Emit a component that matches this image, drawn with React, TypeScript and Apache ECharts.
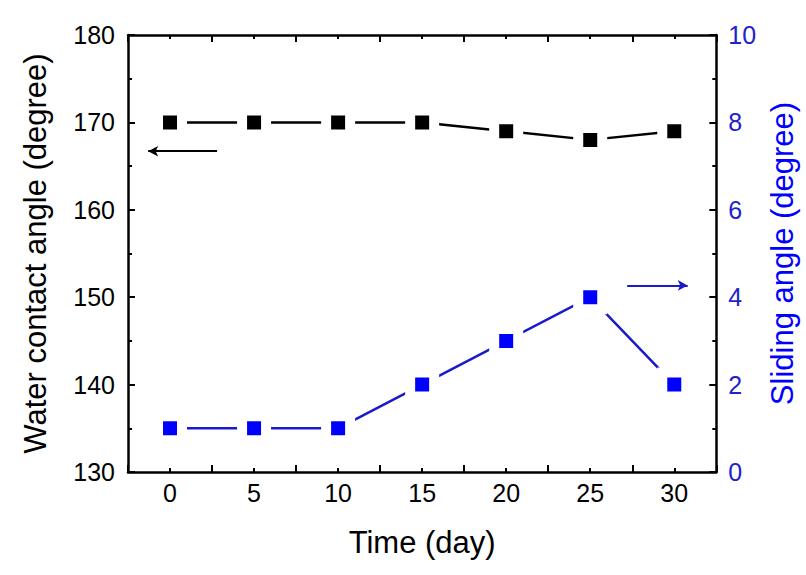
import React, { useEffect, useRef } from "react";
import * as echarts from "echarts";

const days = [0, 5, 10, 15, 20, 25, 30];
const contactAngle = [170, 170, 170, 170, 169, 168, 169];
const slidingAngle = [1, 1, 1, 2, 3, 4, 2];
const leftArrow = [[2.8, 166.7], [-1.3, 166.7]];
const rightArrow = [[27.2, 4.27], [30.8, 4.27]];

const FONT = "Liberation Sans, Arial, sans-serif";
const BLUE = "#0000ff";
const BLUE_TEXT = "#2222cc";

const axisLine = () => ({ show: true, onZero: false, lineStyle: { color: "#000", width: 2.5 } });
const tick = () => ({ show: true, inside: true, length: 7, lineStyle: { color: "#000", width: 2 } });
const minor = () => ({ show: true, splitNumber: 2, length: 4, lineStyle: { color: "#000", width: 2 } });

export default function App() {
  const ref = useRef<HTMLDivElement>(null);
  useEffect(() => {
    const chart = echarts.init(ref.current!, undefined, { renderer: "svg" });
    chart.setOption({
      animation: false,
      backgroundColor: "#fff",
      grid: { left: 128, right: 86, top: 35, bottom: 103 },
      xAxis: [
        {
          type: "value", min: -2.5, max: 32.5, interval: 5,
          axisLine: axisLine(), axisTick: tick(), minorTick: minor(),
          splitLine: { show: false },
          axisLabel: { customValues: days, fontFamily: FONT, fontSize: 25, color: "#000", margin: 8 },
          name: "Time (day)", nameLocation: "middle", nameGap: 55,
          nameTextStyle: { fontFamily: FONT, fontSize: 31, color: "#000" },
        },
        {
          type: "value", min: -2.5, max: 32.5, interval: 5, position: "top",
          axisLine: axisLine(), axisTick: tick(), minorTick: minor(),
          splitLine: { show: false }, axisLabel: { show: false },
        },
      ],
      yAxis: [
        {
          type: "value", min: 130, max: 180, interval: 10, position: "left",
          axisLine: axisLine(), axisTick: tick(), minorTick: minor(), splitLine: { show: false },
          axisLabel: { fontFamily: FONT, fontSize: 25, color: "#000", margin: 13 },
          name: "Water contact angle (degree)", nameLocation: "middle", nameGap: 77,
          nameTextStyle: { fontFamily: FONT, fontSize: 31, color: "#000" },
        },
        {
          type: "value", min: 0, max: 10, interval: 2, position: "right",
          axisLine: axisLine(), axisTick: tick(), minorTick: minor(), splitLine: { show: false },
          axisLabel: { fontFamily: FONT, fontSize: 25, color: BLUE_TEXT, margin: 12 },
          name: "Sliding angle (degree)", nameLocation: "middle", nameGap: 45, nameRotate: 90,
          nameTextStyle: { fontFamily: FONT, fontSize: 31, color: BLUE },
        },
      ],
      series: [
        {
          type: "line", xAxisIndex: 0, yAxisIndex: 0,
          data: days.map((d, i) => [d, contactAngle[i]]),
          symbol: "rect", symbolSize: 24,
          itemStyle: { color: "#000", borderColor: "#fff", borderWidth: 10 },
          lineStyle: { color: "#000", width: 2.5 },
          markLine: {
            silent: true, symbol: ["none", "arrow"], symbolSize: [8, 10],
            label: { show: false },
            lineStyle: { color: "#000", width: 2, type: "solid" },
            data: [[{ coord: leftArrow[0] }, { coord: leftArrow[1] }]],
          },
          z: 3,
        },
        {
          type: "line", xAxisIndex: 0, yAxisIndex: 1,
          data: days.map((d, i) => [d, slidingAngle[i]]),
          symbol: "rect", symbolSize: 24,
          itemStyle: { color: BLUE, borderColor: "#fff", borderWidth: 10 },
          lineStyle: { color: "#1a1acc", width: 2.5 },
          markLine: {
            silent: true, symbol: ["none", "arrow"], symbolSize: [8, 10],
            label: { show: false },
            lineStyle: { color: "#1a1acc", width: 2, type: "solid" },
            data: [[{ coord: rightArrow[0] }, { coord: rightArrow[1] }]],
          },
          z: 3,
        },
      ],
    });
    return () => chart.dispose();
  }, []);
  return <div ref={ref} style={{ width: 806, height: 575, position: "absolute", left: 0, top: 0 }} />;
}
